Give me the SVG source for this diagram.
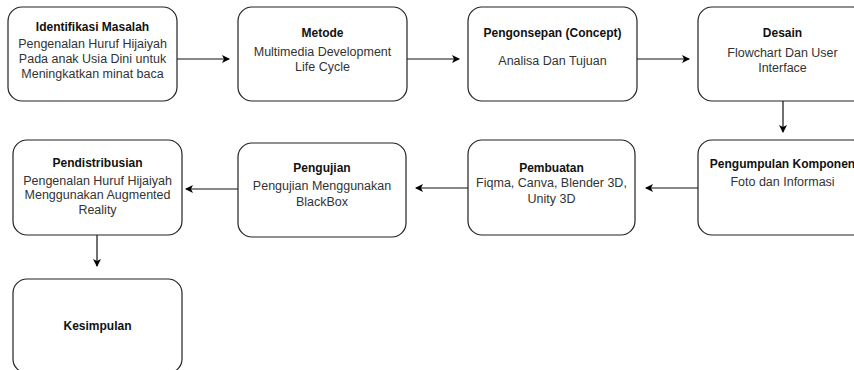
<svg xmlns="http://www.w3.org/2000/svg" width="854" height="370" viewBox="0 0 854 370">
<defs>
<marker id="ah" markerWidth="10" markerHeight="10" refX="8" refY="5" orient="auto" markerUnits="userSpaceOnUse">
<path d="M1,1 L9,5 L1,9 L3,5 Z" fill="#000"/>
</marker>
<style>
.box{fill:#fff;stroke:#222;stroke-width:1.2}
.t{font-family:"Liberation Sans",Arial,sans-serif;font-size:12px;font-weight:bold;fill:#111;text-anchor:middle}
.b{font-family:"Liberation Sans",Arial,sans-serif;font-size:12.5px;fill:#333;text-anchor:middle}
.c{stroke:#111;stroke-width:1.2;fill:none;marker-end:url(#ah)}
</style>
</defs>
<rect width="854" height="370" fill="#fff"/>
<g id="connectors">
<line class="c" x1="177" y1="59" x2="229" y2="59"/>
<line class="c" x1="407" y1="59" x2="459" y2="59"/>
<line class="c" x1="637" y1="59" x2="689" y2="59"/>
<line class="c" x1="783" y1="101" x2="783" y2="132"/>
<line class="c" x1="698" y1="188" x2="646" y2="188"/>
<line class="c" x1="468" y1="188" x2="416" y2="188"/>
<line class="c" x1="238" y1="189" x2="186" y2="189"/>
<line class="c" x1="97" y1="235" x2="97" y2="266"/>
</g>
<g id="identifikasi">
<rect class="box" x="8" y="7" width="169" height="94" rx="14"/>
<text class="t" x="92.5" y="31">Identifikasi Masalah</text>
<text class="b" x="92.5" y="48">Pengenalan Huruf Hijaiyah</text>
<text class="b" x="92.5" y="63">Pada anak Usia Dini untuk</text>
<text class="b" x="92.5" y="78">Meningkatkan minat baca</text>
</g>
<g id="metode">
<rect class="box" x="238" y="7" width="169" height="94" rx="14"/>
<text class="t" x="322.5" y="37">Metode</text>
<text class="b" x="322.5" y="56">Multimedia Development</text>
<text class="b" x="322.5" y="71">Life Cycle</text>
</g>
<g id="pengonsepan">
<rect class="box" x="468" y="7" width="169" height="94" rx="14"/>
<text class="t" x="552.5" y="37">Pengonsepan (Concept)</text>
<text class="b" x="552.5" y="65">Analisa Dan Tujuan</text>
</g>
<g id="desain">
<rect class="box" x="698" y="7" width="169" height="94" rx="14"/>
<text class="t" x="782.5" y="37">Desain</text>
<text class="b" x="782.5" y="57">Flowchart Dan User</text>
<text class="b" x="782.5" y="72">Interface</text>
</g>
<g id="pengumpulan">
<rect class="box" x="698" y="140" width="169" height="95" rx="14"/>
<text class="t" x="782.5" y="168">Pengumpulan Komponen</text>
<text class="b" x="782.5" y="186">Foto dan Informasi</text>
</g>
<g id="pembuatan">
<rect class="box" x="468" y="140" width="167" height="95" rx="14"/>
<text class="t" x="551.5" y="172">Pembuatan</text>
<text class="b" x="551.5" y="187">Fiqma, Canva, Blender 3D,</text>
<text class="b" x="551.5" y="203">Unity 3D</text>
</g>
<g id="pengujian">
<rect class="box" x="238" y="143" width="168" height="94" rx="14"/>
<text class="t" x="322" y="172">Pengujian</text>
<text class="b" x="322" y="190">Pengujian Menggunakan</text>
<text class="b" x="322" y="206">BlackBox</text>
</g>
<g id="pendistribusian">
<rect class="box" x="13" y="140" width="169" height="95" rx="14"/>
<text class="t" x="97.5" y="167">Pendistribusian</text>
<text class="b" x="97.5" y="185">Pengenalan Huruf Hijaiyah</text>
<text class="b" x="97.5" y="199">Menggunakan Augmented</text>
<text class="b" x="97.5" y="214">Reality</text>
</g>
<g id="kesimpulan">
<rect class="box" x="13" y="279" width="169" height="94" rx="14"/>
<text class="t" x="97.5" y="330">Kesimpulan</text>
</g>
</svg>
